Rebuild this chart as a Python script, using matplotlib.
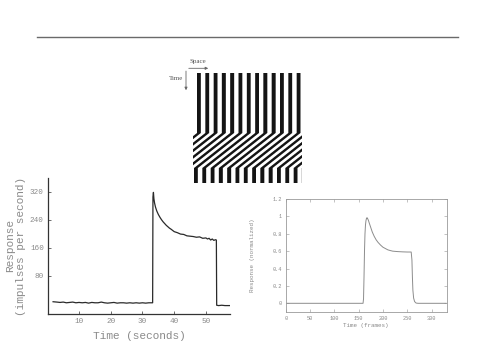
import numpy as np
import matplotlib
matplotlib.use("Agg")
import matplotlib.pyplot as plt
from matplotlib.lines import Line2D
from matplotlib.patches import FancyArrowPatch

W, H = 503, 349

# recorded response (left panel)
rec_time = [1.8, 3, 4, 5, 6, 7, 8, 9, 10, 11, 12, 13, 14, 15, 16, 17, 18, 19, 20,
            21, 22, 23, 24, 25, 26, 27, 28, 29, 30, 31, 32, 33.2,
            33.3, 33.45, 33.6, 33.8, 34.1, 34.5, 35, 35.5, 36, 36.5, 37, 37.5, 38,
            38.5, 39, 40, 41, 42, 43, 44, 45, 46, 47, 48, 49, 50, 50.5, 51, 51.5,
            52, 52.5, 53, 53.3, 53.4, 54, 55, 56, 57.5]
rec_rate = [6, 5, 4, 5, 3, 4, 5, 3, 4, 3, 4, 2, 4, 3, 3, 5, 3, 2, 3,
            4, 2, 3, 3, 2, 3, 2, 3, 2, 3, 2, 3, 3,
            305, 318, 300, 288, 276, 265, 255, 247, 240, 234, 229, 224, 220,
            216, 213, 206, 203, 199, 198, 194, 193, 192, 190, 191, 187, 188, 185, 187, 182,
            185, 181, 183, 182, -4, -5, -4, -5, -5]
rec_xticks = [10, 20, 30, 40, 50]
rec_yticks = [80, 160, 240, 320]

# model response (right panel)
model_frames = [0, 159, 160, 161, 162, 163, 164, 165, 166, 167, 168, 170, 172, 175,
                178, 182, 186, 190, 195, 200, 205, 210, 215, 220, 230, 240, 250,
                258, 259.5, 260.5, 261.5, 263, 265, 268, 272, 330]
model_resp = [0, 0, 0.05, 0.3, 0.6, 0.8, 0.9, 0.95, 0.975, 0.985, 0.98, 0.955, 0.92, 0.87,
              0.82, 0.77, 0.73, 0.70, 0.67, 0.645, 0.63, 0.615, 0.607, 0.60, 0.595, 0.592, 0.59,
              0.59, 0.5, 0.3, 0.15, 0.06, 0.02, 0.003, 0, 0]
model_xticks = [0, 50, 100, 150, 200, 250, 300]
model_yticks = [0, 0.2, 0.4, 0.6, 0.8, 1, 1.2]
model_yticklabels = ["0", "0.2", "0.4", "0.6", "0.8", "1", "1.2"]

# stimulus space-time pattern (pixels of the drawn picture)
stim_size = (110, 109)     # rows (time), cols (space)
stim_period = 8.3
stim_bar = 3.9
stim_phase = 4.0
move_start, move_end = 60, 95
move_shift = 44.5

mono = "Liberation Mono"
gray = "#8a8a8a"


def fx(px):
    return px / W


def fy(py):
    return 1 - py / H


fig = plt.figure(figsize=(W / 100, H / 100), dpi=100)
fig.patch.set_facecolor("white")

# horizontal rule at the top of the slide
fig.add_artist(Line2D([fx(37), fx(458)], [fy(37.3), fy(37.3)], color="#6a6a6a", lw=1.0))

# --- stimulus picture, supersampled then averaged down to pixels ---
sup = 6
rows = (np.arange(stim_size[0] * sup) + 0.5) / sup
cols = (np.arange(stim_size[1] * sup) + 0.5) / sup
offset = -move_shift * np.clip((rows - move_start) / (move_end - move_start), 0, 1)
X = cols[None, :] - offset[:, None] - stim_phase
black = ((X % stim_period) < stim_bar).astype(float)
black[(rows < move_start)[:, None] & (cols < 3.5)[None, :]] = 0
black = black.reshape(stim_size[0], sup, stim_size[1], sup).mean(axis=(1, 3))
img = 1 - 0.92 * black
ax_img = fig.add_axes([fx(193), fy(183), 109 / W, 110 / H])
ax_img.imshow(img, cmap="gray", vmin=0, vmax=1, aspect="auto", interpolation="nearest")
ax_img.axis("off")

fig.text(fx(198), fy(61.5), "Space", fontsize=5, family="Liberation Serif", color="#555",
         ha="center", va="center")
fig.text(fx(176), fy(78), "Time", fontsize=5, family="Liberation Serif", color="#555",
         ha="center", va="center")
arrow = dict(arrowstyle="-|>", color="#666", lw=0.6, mutation_scale=4)
fig.add_artist(FancyArrowPatch((fx(186), fy(68.3)), (fx(211), fy(68.3)),
                               transform=fig.transFigure, **arrow))
fig.add_artist(FancyArrowPatch((fx(186), fy(68.3)), (fx(186), fy(93)),
                               transform=fig.transFigure, **arrow))

# --- recorded response ---
ax1 = fig.add_axes([fx(48), fy(314), 182 / W, 136 / H])
ax1.patch.set_visible(False)
ax1.plot(rec_time, rec_rate, color="#2a2a2a", lw=0.9)
ax1.set_xlim(0.2, 57.6)
ax1.set_ylim(-29, 359)
ax1.set_xticks(rec_xticks)
ax1.set_yticks(rec_yticks)
ax1.tick_params(direction="in", length=2, width=0.6, colors="#555", labelcolor=gray,
                labelsize=5.5, pad=3)
for lab in ax1.get_xticklabels() + ax1.get_yticklabels():
    lab.set_family(mono)
for side in ["top", "right"]:
    ax1.spines[side].set_visible(False)
for side in ["left", "bottom"]:
    ax1.spines[side].set_color("#333")
    ax1.spines[side].set_linewidth(0.9)
ax1.set_xlabel("Time (seconds)", family=mono, fontsize=8, color=gray, labelpad=4)
ax1.set_ylabel("Response\n(impulses per second)", family=mono, fontsize=8, color=gray,
               labelpad=3, linespacing=1.1)

# --- model response ---
ax2 = fig.add_axes([fx(285.7), fy(312), 161 / W, 113 / H])
ax2.plot(model_frames, model_resp, color="#8c8c8c", lw=0.7)
ax2.set_xlim(0, 331)
ax2.set_ylim(-0.1, 1.2)
ax2.set_xticks(model_xticks)
ax2.set_yticks(model_yticks)
ax2.set_yticklabels(model_yticklabels)
ax2.tick_params(direction="in", length=2, width=0.5, colors="#aaa", labelcolor=gray,
                labelsize=3.8, pad=3, top=True, right=True)
for lab in ax2.get_xticklabels() + ax2.get_yticklabels():
    lab.set_family(mono)
for s in ax2.spines.values():
    s.set_color("#9a9a9a")
    s.set_linewidth(0.6)
ax2.set_xlabel("Time (frames)", family=mono, fontsize=4.2, color=gray, labelpad=1)
ax2.set_ylabel("Response (normalized)", family=mono, fontsize=4.2, color=gray, labelpad=12)

fig.savefig("out.png", dpi=100)
